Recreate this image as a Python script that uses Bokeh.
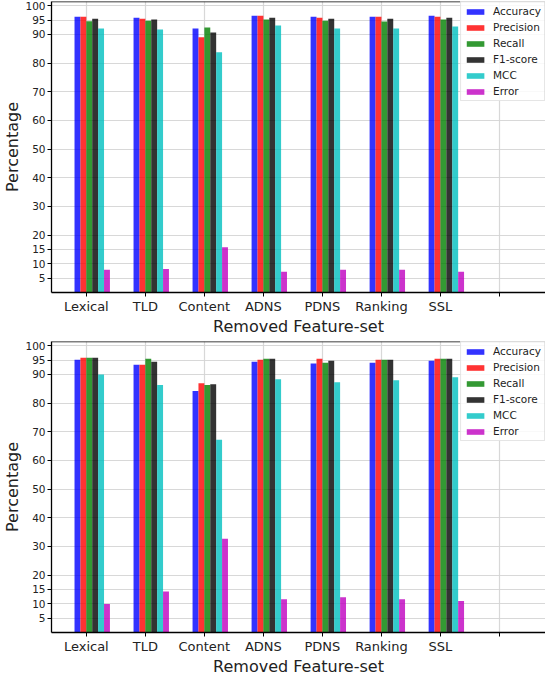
from bokeh.plotting import figure
from bokeh.layouts import column
from bokeh.models import ColumnDataSource, FixedTicker, Span
from bokeh.transform import dodge
from bokeh.embed import file_html
from bokeh.resources import INLINE

categories = ["Lexical", "TLD", "Content", "ADNS", "PDNS", "Ranking", "SSL"]
metrics = ["Accuracy", "Precision", "Recall", "F1-score", "MCC", "Error"]
colors = ["#0000ff", "#ff0000", "#008000", "#000000", "#00bfbf", "#bf00bf"]
y_ticks = [5, 10, 15, 20, 30, 40, 50, 60, 70, 80, 90, 95, 100]

# top chart
top_accuracy = [96.2, 95.8, 92.1, 96.5, 96.2, 96.2, 96.5]
top_precision = [96.2, 95.5, 89.0, 96.5, 95.8, 96.2, 96.2]
top_recall = [94.6, 94.8, 92.4, 95.2, 94.8, 94.5, 95.2]
top_f1 = [95.5, 95.2, 90.7, 95.8, 95.5, 95.5, 95.8]
top_mcc = [92.1, 91.7, 83.8, 93.1, 92.1, 92.1, 92.8]
top_error = [7.9, 8.2, 15.8, 7.2, 7.9, 7.9, 7.2]

# bottom chart
bot_accuracy = [95.1, 93.4, 84.2, 94.4, 93.8, 94.1, 94.8]
bot_precision = [95.8, 93.4, 86.9, 95.1, 95.5, 95.1, 95.5]
bot_recall = [95.8, 95.5, 86.3, 95.5, 94.1, 95.1, 95.5]
bot_f1 = [95.8, 94.4, 86.6, 95.5, 94.8, 95.1, 95.5]
bot_mcc = [90.0, 86.3, 67.2, 88.3, 87.3, 88.0, 89.0]
bot_error = [9.9, 14.3, 32.7, 11.6, 12.3, 11.6, 11.0]

FONT = "DejaVu Sans"
BAR_W = 0.1
offsets = [-0.15, -0.05, 0.05, 0.15, 0.25, 0.35]


def make_chart(series, frame_h, border_top):
    src = ColumnDataSource(dict(
        idx=list(range(len(categories))),
        **{m: s for m, s in zip(metrics, series)}
    ))
    p = figure(frame_width=494, frame_height=frame_h, output_backend="svg",
               toolbar_location=None,
               x_range=(-0.59, 7.78), y_range=(0, 101.5),
               min_border_left=46, min_border_right=0, min_border_top=border_top,
               min_border_bottom=0)
    p.outline_line_color = None
    for m, c, off in zip(metrics, colors, offsets):
        p.vbar(x=dodge("idx", off, range=p.x_range), top=m, width=BAR_W, source=src,
               fill_color=c, fill_alpha=0.8, line_color=None, legend_label=m)
    p.add_layout(Span(location=101.5, dimension="width", line_color="black", line_width=1.3))

    p.xaxis.ticker = FixedTicker(ticks=list(range(len(categories) + 1)))
    overrides = {i: c for i, c in enumerate(categories)}
    overrides[len(categories)] = ""
    p.xaxis.major_label_overrides = overrides
    p.yaxis.ticker = FixedTicker(ticks=y_ticks)
    p.xgrid.ticker = FixedTicker(ticks=list(range(len(categories) + 1)))
    p.ygrid.ticker = FixedTicker(ticks=y_ticks)
    for g in (p.xgrid, p.ygrid):
        g.grid_line_color = "#d4d4d4"
        g.grid_line_width = 1.2
        g.grid_line_alpha = 0.9

    for ax in (p.xaxis, p.yaxis):
        ax.axis_line_color = "black"
        ax.axis_line_width = 1.3
        ax.major_tick_line_color = "black"
        ax.major_tick_in = 0
        ax.major_tick_out = 4
        ax.minor_tick_line_color = None
        ax.major_label_text_font = FONT
        ax.major_label_text_color = "#222222"
        ax.axis_label_text_font = FONT
        ax.axis_label_text_font_style = "normal"
        ax.axis_label_text_font_size = "16px"
        ax.axis_label_text_color = "#222222"
    p.xaxis.major_label_text_font_size = "13px"
    p.yaxis.major_label_text_font_size = "10.5px"
    p.xaxis.major_label_standoff = 2
    p.yaxis.major_label_standoff = 2
    p.xaxis.axis_label = "Removed Feature-set"
    p.yaxis.axis_label = "Percentage"
    p.xaxis.axis_label_standoff = 0
    p.yaxis.axis_label_standoff = 0

    lg = p.legend[0]
    lg.location = "top_right"
    lg.margin = 0
    lg.padding = 3
    lg.spacing = 4
    lg.glyph_width = 22
    lg.glyph_height = 7
    lg.label_height = 12
    lg.label_standoff = 7
    lg.label_text_font = FONT
    lg.label_text_font_size = "10.5px"
    lg.label_text_color = "#222222"
    lg.border_line_color = "#cccccc"
    lg.border_line_width = 1
    lg.background_fill_alpha = 0.85
    return p


p1 = make_chart([top_accuracy, top_precision, top_recall, top_f1, top_mcc, top_error], 291, 1)
p2 = make_chart([bot_accuracy, bot_precision, bot_recall, bot_f1, bot_mcc, bot_error], 291, 3)

layout = column(p1, p2, spacing=0)
open("out.html", "w").write(file_html(layout, INLINE))
